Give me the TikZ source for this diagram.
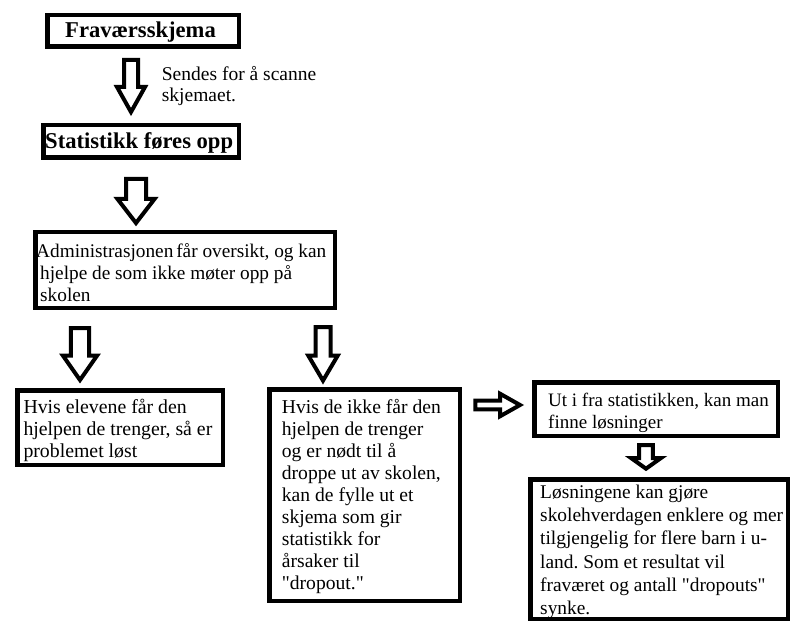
\documentclass[tikz,border=0pt]{standalone}
\usepackage{fontspec}
\setmainfont{Liberation Serif}[Ligatures=TeXOff]
\usetikzlibrary{calc}
\frenchspacing
\newcommand{\txtlines}[1]{\begin{tabular}[t]{@{}l@{}}#1\end{tabular}}
\newcommand{\blockdown}[5]{\draw[blockarrow] let \p1=(#1), \p2=(#2) in
  (\x1-#3pt,\y1) -- (\x1+#3pt,\y1) -- (\x1+#3pt,\y2+#5pt) -- (\x1+#4pt,\y2+#5pt)
  -- (\x1,\y2) -- (\x1-#4pt,\y2+#5pt) -- (\x1-#3pt,\y2+#5pt) -- cycle;}
\newcommand{\blockright}[5]{\draw[blockarrow] let \p1=(#1), \p2=(#2) in
  (\x1,\y1-#3pt) -- (\x2-#5pt,\y1-#3pt) -- (\x2-#5pt,\y1-#4pt) -- (\x2,\y1)
  -- (\x2-#5pt,\y1+#4pt) -- (\x2-#5pt,\y1+#3pt) -- (\x1,\y1+#3pt) -- cycle;}
\tikzset{
  box/.style={draw=black, line width=4.5pt, inner sep=0pt, fill=white},
  boxtext/.style={anchor=base west, inner sep=0pt, font=\fontsize{19.6}{22}\selectfont},
  titletext/.style={anchor=base west, inner sep=0pt, font=\bfseries\fontsize{22.6}{27}\selectfont},
  blockarrow/.style={draw=black, line width=4pt, fill=white, line join=miter}
}
\begin{document}
\begin{tikzpicture}[x=1pt,y=-1pt]
\useasboundingbox[fill=white] (0,0) rectangle (806,631);
% boxes
\node[box, minimum width=191.5pt, minimum height=31.5pt] (b1) at (143,31) {};
\node[box, minimum width=195.5pt, minimum height=32.5pt] (b2) at (141,141.5) {};
\node[box, minimum width=299.5pt, minimum height=75.5pt] (b3) at (185,270) {};
\node[box, minimum width=205.5pt, minimum height=74.5pt] (b4) at (120,427.5) {};
\node[box, minimum width=190.5pt, minimum height=211.5pt] (b5) at (364.5,495) {};
\node[box, minimum width=243.5pt, minimum height=53.5pt] (b6) at (656,409) {};
\node[box, minimum width=257.5pt, minimum height=139.5pt] (b7) at (659,549) {};
% texts
\node[titletext] (t1) at (65,37.3) {Fraværsskjema};
\node[titletext] (t2) at (45,148.3) {Statistikk føres opp};
\node[boxtext, font=\fontsize{19.3}{22}\selectfont] (t3) at (36,258) {\txtlines{Administrasjonen\hspace{-2pt} får oversikt, og kan\\
  \hspace*{4pt}hjelpe de som ikke møter opp på\\ \hspace*{4pt}skolen}};
\node[boxtext, font=\fontsize{19.8}{22}\selectfont] (t4) at (23.3,413.5) {\txtlines{Hvis elevene får den\\hjelpen de trenger, så er\\problemet løst}};
\node[boxtext] (t5) at (281.7,413.3) {\txtlines{Hvis de ikke får den\\hjelpen de trenger\\og er nødt til å\\droppe ut av skolen,\\kan de fylle ut et\\skjema som gir\\statistikk for\\årsaker til\\"dropout."}};
\node[boxtext, font=\fontsize{19}{22}\selectfont] (t6) at (548,406) {\txtlines{Ut i fra statistikken, kan man\\finne løsninger}};
\node[boxtext, font=\fontsize{19.4}{23.3}\selectfont] (t7) at (540,498.3) {\txtlines{Løsningene kan gjøre\\skolehverdagen enklere og mer\\tilgjengelig for flere barn i u-\\land. Som et resultat vil\\fraværet og antall "dropouts"\\synke.}};
\node[anchor=base west, inner sep=0pt, font=\fontsize{19.5}{20.7}\selectfont] (lbl) at (161.7,81) {\txtlines{Sendes for å scanne\\skjemaet.}};
% arrow end points
\coordinate (a1s) at (131,60);   \coordinate (a1e) at (131,112);
\coordinate (a2s) at (136,179);  \coordinate (a2e) at (136,223);
\coordinate (a3s) at (80,328);   \coordinate (a3e) at (80,380);
\coordinate (a4s) at (323,327);  \coordinate (a4e) at (323,380.6);
\coordinate (a5s) at (475.3,405);\coordinate (a5e) at (520,405);
\coordinate (a6s) at (646,445);  \coordinate (a6e) at (646,468.7);
% block arrows
\blockdown{a1s}{a1e}{7}{14}{25}
\blockdown{a2s}{a2e}{10}{18.5}{24}
\blockdown{a3s}{a3e}{9.2}{17}{24.3}
\blockdown{a4s}{a4e}{7.5}{14.7}{25}
\blockright{a5s}{a5e}{4.3}{11.3}{20}
\blockdown{a6s}{a6e}{6.8}{15}{10.7}
\end{tikzpicture}
\end{document}
